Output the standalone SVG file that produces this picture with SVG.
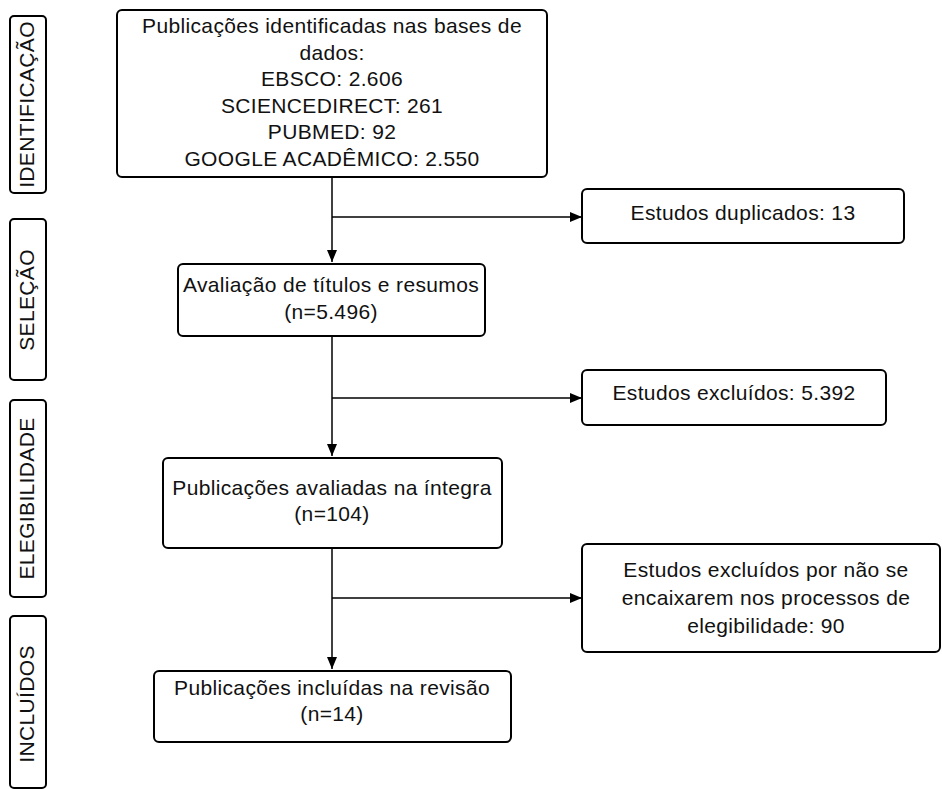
<svg xmlns="http://www.w3.org/2000/svg" width="942" height="789" viewBox="0 0 942 789">
<defs>
<style>
.box{fill:#fff;stroke:#000;stroke-width:2}
.t{font-family:"Liberation Sans",Arial,sans-serif;font-size:21px;letter-spacing:0.35px;fill:#111;text-anchor:middle}
.c{fill:none;stroke:#000;stroke-width:1.5}
</style>
<marker id="ah" markerWidth="12" markerHeight="10" refX="12" refY="5" orient="auto" markerUnits="userSpaceOnUse">
<path d="M0,0 L12,5 L0,10 Z" fill="#000"/>
</marker>
</defs>
<rect width="942" height="789" fill="#fff"/>

<g id="lbl-identificacao">
<rect class="box" x="10" y="16" width="36" height="177" rx="4"/>
<text class="t" transform="translate(33.5,104.5) rotate(-90)">IDENTIFICAÇÃO</text>
</g>
<g id="lbl-selecao">
<rect class="box" x="10" y="219" width="36" height="161" rx="4"/>
<text class="t" transform="translate(33.5,300) rotate(-90)">SELEÇÃO</text>
</g>
<g id="lbl-elegibilidade">
<rect class="box" x="10" y="400" width="36" height="197" rx="4"/>
<text class="t" transform="translate(33.5,498.5) rotate(-90)">ELEGIBILIDADE</text>
</g>
<g id="lbl-incluidos">
<rect class="box" x="10" y="616" width="36" height="172" rx="4"/>
<text class="t" transform="translate(33.5,704) rotate(-90)">INCLUÍDOS</text>
</g>

<g id="connectors">
<path class="c" d="M332,177 V262" marker-end="url(#ah)"/>
<path class="c" d="M332,217 H582" marker-end="url(#ah)"/>
<path class="c" d="M332,336 V456" marker-end="url(#ah)"/>
<path class="c" d="M332,398 H582" marker-end="url(#ah)"/>
<path class="c" d="M332,548 V669" marker-end="url(#ah)"/>
<path class="c" d="M332,598 H582" marker-end="url(#ah)"/>
</g>

<g id="n1">
<rect class="box" x="117" y="10" width="430" height="167" rx="5"/>
<text class="t" x="332" y="33">Publicações identificadas nas bases de</text>
<text class="t" x="332" y="59.5">dados:</text>
<text class="t" x="332" y="86">EBSCO: 2.606</text>
<text class="t" x="332" y="112.5">SCIENCEDIRECT: 261</text>
<text class="t" x="332" y="139">PUBMED: 92</text>
<text class="t" x="332" y="165.5">GOOGLE ACADÊMICO: 2.550</text>
</g>
<g id="n2">
<rect class="box" x="178" y="264" width="307" height="72" rx="5"/>
<text class="t" x="331" y="292">Avaliação de títulos e resumos</text>
<text class="t" x="331" y="319">(n=5.496)</text>
</g>
<g id="n3">
<rect class="box" x="163" y="458" width="339" height="90" rx="5"/>
<text class="t" x="332" y="495">Publicações avaliadas na íntegra</text>
<text class="t" x="332" y="521">(n=104)</text>
</g>
<g id="n4">
<rect class="box" x="154" y="671" width="357" height="71" rx="5"/>
<text class="t" x="332" y="695">Publicações incluídas na revisão</text>
<text class="t" x="332" y="721">(n=14)</text>
</g>
<g id="d1">
<rect class="box" x="582" y="189" width="322" height="54" rx="5"/>
<text class="t" x="743" y="220">Estudos duplicados: 13</text>
</g>
<g id="d2">
<rect class="box" x="582" y="370" width="304" height="55" rx="5"/>
<text class="t" x="734" y="400">Estudos excluídos: 5.392</text>
</g>
<g id="d3">
<rect class="box" x="582" y="544" width="358" height="108" rx="5"/>
<text class="t" x="766" y="577">Estudos excluídos por não se</text>
<text class="t" x="766" y="605">encaixarem nos processos de</text>
<text class="t" x="766" y="633">elegibilidade: 90</text>
</g>
</svg>
